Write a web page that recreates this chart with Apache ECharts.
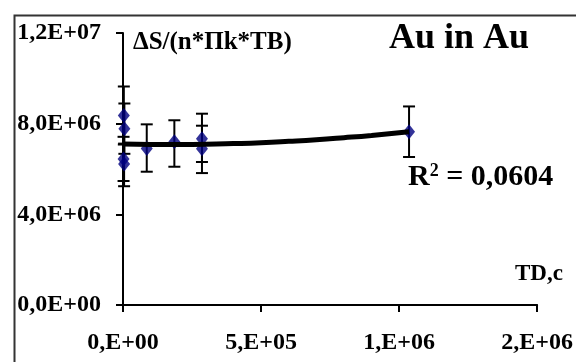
<!DOCTYPE html>
<html>
<head>
<meta charset="utf-8">
<script src="https://cdn.jsdelivr.net/npm/echarts@6/dist/echarts.min.js"></script>
<style>
html,body{margin:0;padding:0;background:#fff;}
#chart{width:576px;height:362px;}
</style>
</head>
<body>
<div id="chart"></div>
<script>
// Measured points (TD in s, value)
const pointX = [3000, 5000, 2000, 4000, 86000, 186000, 286000, 286000, 1036000];
const pointY = [8.36e6, 7.78e6, 6.44e6, 6.22e6, 6.90e6, 7.20e6, 7.33e6, 6.89e6, 7.64e6];
// Error bar half-lengths
const errUp   = [1.28e6, 1.11e6, 0.98e6, 0.90e6, 1.07e6, 0.95e6, 1.11e6, 1.02e6, 1.12e6];
const errDown = [1.28e6, 1.11e6, 0.97e6, 0.98e6, 1.02e6, 1.10e6, 1.02e6, 1.07e6, 1.11e6];
// Polynomial trend line
const trendX = [0, 100000, 200000, 300000, 400000, 500000, 600000, 700000, 800000, 900000, 1036000];
const trendY = [7.10e6, 7.08e6, 7.08e6, 7.09e6, 7.12e6, 7.16e6, 7.22e6, 7.29e6, 7.38e6, 7.48e6, 7.64e6];
// Tick labels
const xTickLabels = {0: '0,E+00', 500000: '5,E+05', 1000000: '1,E+06', 1500000: '2,E+06'};
const yTickLabels = {0: '0,0E+00', 4000000: '4,0E+06', 8000000: '8,0E+06', 12000000: '1,2E+07'};

const FONT = "'Liberation Serif', 'Times New Roman', serif";

const chart = echarts.init(document.getElementById('chart'), null, {renderer: 'canvas'});

const scatterData = pointX.map((x, i) => [x, pointY[i]]);
const errData = pointX.map((x, i) => [x, pointY[i] - errDown[i], pointY[i] + errUp[i]]);
const trendData = trendX.map((x, i) => [x, trendY[i]]);

chart.setOption({
  backgroundColor: '#fff',
  animation: false,
  grid: {left: 123, top: 33, right: 34, bottom: 57, containLabel: false},
  xAxis: {
    type: 'value', min: 0, max: 1500000, interval: 500000,
    axisLine: {show: true, onZero: false, lineStyle: {color: '#000', width: 2}},
    axisTick: {show: true, inside: false, length: 7, lineStyle: {color: '#000', width: 2}},
    splitLine: {show: false},
    axisLabel: {
      margin: 26, color: '#000', fontFamily: FONT, fontWeight: 'bold', fontSize: 24,
      formatter: v => xTickLabels[v] !== undefined ? xTickLabels[v] : ''
    }
  },
  yAxis: {
    type: 'value', min: 0, max: 12000000, interval: 4000000,
    axisLine: {show: true, onZero: false, lineStyle: {color: '#000', width: 2}},
    axisTick: {show: true, inside: false, length: 7, lineStyle: {color: '#000', width: 2}},
    splitLine: {show: false},
    axisLabel: {
      margin: 22, color: '#000', fontFamily: FONT, fontWeight: 'bold', fontSize: 24,
      formatter: v => yTickLabels[v] !== undefined ? yTickLabels[v] : ''
    }
  },
  series: [
    {
      type: 'custom',
      z: 2,
      data: errData,
      encode: {x: 0, y: [1, 2]},
      renderItem: function (params, api) {
        const x = api.value(0);
        const lo = api.coord([x, api.value(1)]);
        const hi = api.coord([x, api.value(2)]);
        const hw = 6;
        const style = {stroke: '#000', lineWidth: 2};
        return {
          type: 'group',
          children: [
            {type: 'line', shape: {x1: lo[0], y1: lo[1], x2: hi[0], y2: hi[1]}, style: style},
            {type: 'line', shape: {x1: hi[0] - hw, y1: hi[1], x2: hi[0] + hw, y2: hi[1]}, style: style},
            {type: 'line', shape: {x1: lo[0] - hw, y1: lo[1], x2: lo[0] + hw, y2: lo[1]}, style: style}
          ]
        };
      }
    },
    {
      type: 'scatter',
      z: 3,
      data: scatterData,
      symbol: 'diamond',
      symbolSize: [12, 15],
      itemStyle: {color: '#000080'}
    },
    {
      type: 'line',
      z: 4,
      data: trendData,
      smooth: true,
      showSymbol: false,
      symbol: 'none',
      lineStyle: {color: '#000', width: 5}
    }
  ],
  graphic: [
    {
      type: 'rect', left: 12, top: 13, z: -10, silent: true,
      shape: {width: 600, height: 400},
      style: {fill: 'none', stroke: '#333', lineWidth: 2}
    },
    {
      type: 'text', left: 133, top: 30,
      style: {text: 'ΔS/(n*Πk*TB)', fill: '#000', font: "bold 25px " + FONT}
    },
    {
      type: 'text', left: 389, top: 21,
      style: {text: 'Au in Au', fill: '#000', font: "bold 36px " + FONT}
    },
    {
      type: 'text', left: 408, top: 162,
      style: {
        text: '{r|R}{s|2}{r| = 0,0604}',
        rich: {
          r: {font: "bold 30px " + FONT, fill: '#000', verticalAlign: 'bottom'},
          s: {font: "bold 18px " + FONT, fill: '#000', verticalAlign: 'top', padding: [0, 0, 10, 0]}
        }
      }
    },
    {
      type: 'text', left: 515, top: 263,
      style: {text: 'TD,c', fill: '#000', font: "bold 23px " + FONT}
    }
  ]
});
</script>
</body>
</html>
